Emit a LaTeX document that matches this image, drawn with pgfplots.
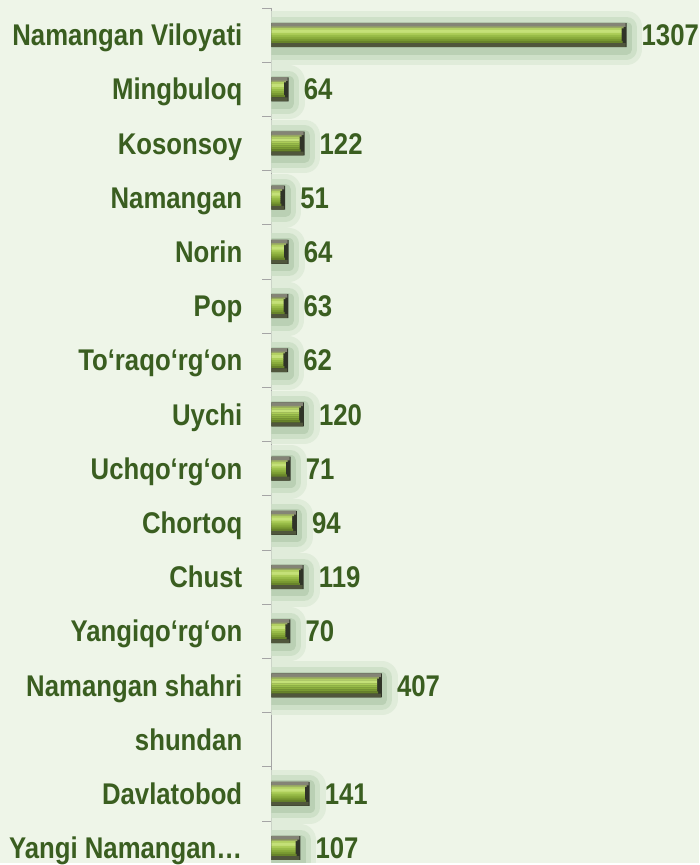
\documentclass[border=0pt]{standalone}
\usepackage{pgfplots}
\usepackage{pgfplotstable}
\pgfplotsset{compat=1.18}
\usepackage{fontspec}
\setmainfont{Liberation Sans}[FakeStretch=0.86]
\definecolor{bg}{RGB}{238,245,232}
\definecolor{txt}{RGB}{58,94,32}
\definecolor{axisgray}{RGB}{165,165,165}
\definecolor{haloA}{RGB}{224,236,218}
\definecolor{haloB}{RGB}{206,224,200}
\definecolor{haloC}{RGB}{186,208,180}
\definecolor{base}{RGB}{48,52,40}
\definecolor{s1}{RGB}{132,132,118}
\definecolor{s2}{RGB}{150,165,100}
\definecolor{s3}{RGB}{178,208,98}
\definecolor{s4}{RGB}{196,224,120}
\definecolor{s5}{RGB}{172,205,88}
\definecolor{s6}{RGB}{152,188,72}
\definecolor{s7}{RGB}{138,172,60}
\definecolor{s8}{RGB}{122,155,50}
\definecolor{s9}{RGB}{104,132,42}
\definecolor{s10}{RGB}{80,86,60}
\pgfplotstableread{
i v
0 1307
1 64
2 122
3 51
4 64
5 63
6 62
7 120
8 71
9 94
10 119
11 70
12 407
13 nan
14 141
15 107
}\datatable
% width, shift (up positive), colour, shortening in axis units
\newcommand{\stripe}[4]{\addplot[xbar, bar width=#1, bar shift=#2, fill=#3, draw=none] table[x expr={\thisrow{v}-#4}, y=i] {\datatable};}
\newcommand{\halo}[2]{\addplot[xbar, bar width=22pt, bar shift=-3pt, draw=#1, fill=#1, line width=#2, line join=round] table[x=v, y=i] {\datatable};}
\begin{document}
\begin{tikzpicture}
\fill[bg] (0,0) rectangle (701pt,-865pt);
\begin{axis}[
  at={(272pt,-8pt)}, anchor=north west,
  scale only axis, width=429pt, height=857pt,
  xmin=0, xmax=1575, ymin=-0.5, ymax=15.276, y dir=reverse,
  axis x line=none, axis y line*=left,
  y axis line style={draw=axisgray, line width=0.8pt, -},
  ytick={0,...,15},
  yticklabels={Namangan Viloyati, Mingbuloq, Kosonsoy, Namangan, Norin, Pop, To‘raqo‘rg‘on, Uychi, Uchqo‘rg‘on, Chortoq, Chust, Yangiqo‘rg‘on, Namangan shahri, shundan, Davlatobod, Yangi Namangan…},
  major tick length=0pt,
  minor ytick={-0.5,0.5,...,14.5},
  minor tick length=9pt, tick align=outside,
  every minor tick/.style={draw=axisgray, line width=0.8pt},
  yticklabel style={font=\fontsize{30}{36}\selectfont\bfseries, text=txt, anchor=base east, inner sep=0pt, xshift=-29pt, yshift=-10.7pt},
  xbar, bar width=24pt,
]
\halo{haloA}{32pt}
\halo{haloB}{21pt}
\halo{haloC}{11pt}
\addplot[xbar, bar width=24pt, bar shift=0pt, fill=base, draw=none] table[x=v, y=i] {\datatable};
\stripe{3.8pt}{10.25pt}{s1}{3.7}
\stripe{1.8pt}{7.75pt}{s2}{11}
\stripe{2.3pt}{6pt}{s3}{18}
\stripe{3.3pt}{3.5pt}{s4}{18}
\stripe{2.3pt}{1pt}{s5}{18}
\stripe{2.3pt}{-1pt}{s6}{18}
\stripe{2.3pt}{-3pt}{s7}{18}
\stripe{2.3pt}{-5pt}{s8}{18}
\stripe{2.3pt}{-7pt}{s9}{14}
\stripe{3.8pt}{-10pt}{s10}{3.7}
\addplot[xbar, bar width=24pt, bar shift=0pt, draw=none, fill=none,
  point meta=explicit, 
  nodes near coords={\pgfmathprintnumber[1000 sep={}, assume math mode=true]{\pgfplotspointmeta}},
  nodes near coords style={font=\fontsize{30}{36}\selectfont\bfseries, text=txt, anchor=base west, inner sep=0pt, xshift=15pt, yshift=-10.7pt}]
  table[x=v, y=i, meta=v] {\datatable};
\end{axis}
\end{tikzpicture}
\end{document}
